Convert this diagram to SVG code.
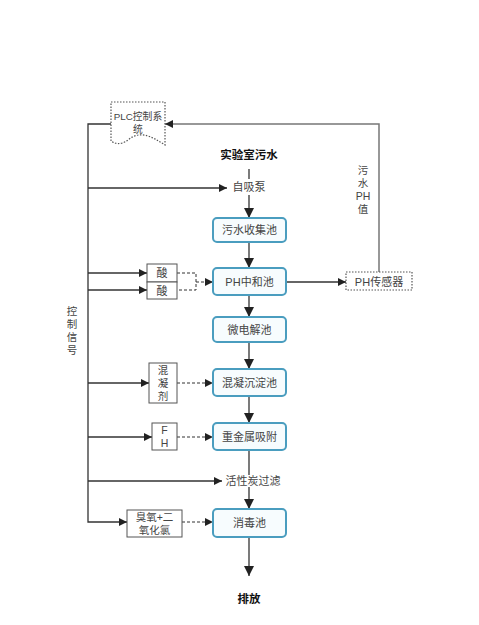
<svg xmlns="http://www.w3.org/2000/svg" width="479" height="625" viewBox="0 0 479 625">
<defs>
<marker id="ah" viewBox="0 0 10 10" refX="10" refY="5" markerWidth="8" markerHeight="8" markerUnits="userSpaceOnUse" orient="auto"><path d="M0,0 L10,5 L0,10 z" fill="#222"/></marker>
<marker id="ahb" viewBox="0 0 10 10" refX="10" refY="5" markerWidth="10" markerHeight="10" markerUnits="userSpaceOnUse" orient="auto"><path d="M0,0 L10,5 L0,10 z" fill="#222"/></marker>
</defs>
<style>
text{font-family:"Liberation Sans","Noto Sans CJK SC",sans-serif;fill:#444;font-size:11px;text-anchor:middle;dominant-baseline:central}
.proc{fill:#f7fcfe;stroke:#4a9dbf;stroke-width:2}
.aux{fill:#fff;stroke:#555;stroke-width:1}
.dot{fill:#fff;stroke:#555;stroke-width:1.2;stroke-dasharray:1.5 1.5}
.ln{fill:none;stroke:#333;stroke-width:1.3}
.dash{fill:none;stroke:#333;stroke-width:1;stroke-dasharray:3 2}
.fb{fill:none;stroke:#777;stroke-width:1.5}
.title{font-weight:bold;fill:#111;font-size:11.5px}
.sm{font-size:10.5px}
.xs{font-size:9.8px}
</style>
<rect width="479" height="625" fill="#fff"/>
<g id="connectors">
<path class="ln" d="M249,169 V179"/>
<path class="ln" d="M249,195 V218" marker-end="url(#ahb)"/>
<path class="ln" d="M249,242 V268" marker-end="url(#ahb)"/>
<path class="ln" d="M249,295 V317" marker-end="url(#ahb)"/>
<path class="ln" d="M249,342 V369" marker-end="url(#ahb)"/>
<path class="ln" d="M249,396 V423" marker-end="url(#ahb)"/>
<path class="ln" d="M249,450 V475"/>
<path class="ln" d="M249,487 V509" marker-end="url(#ahb)"/>
<path class="ln" d="M249,537 V576" marker-end="url(#ahb)"/>
<path class="ln" d="M111,124 H88 V522 H127" marker-end="url(#ah)"/>
<path class="ln" d="M88,188 H227" marker-end="url(#ah)"/>
<path class="ln" d="M88,273 H147" marker-end="url(#ah)"/>
<path class="ln" d="M88,290 H147" marker-end="url(#ah)"/>
<path class="ln" d="M88,383 H149" marker-end="url(#ah)"/>
<path class="ln" d="M88,437 H152" marker-end="url(#ah)"/>
<path class="ln" d="M88,481 H222" marker-end="url(#ah)"/>
<path class="dash" d="M177,273 H196 V290 H177"/>
<path class="dash" d="M196,282 H213" marker-end="url(#ah)"/>
<path class="dash" d="M177,383 H213" marker-end="url(#ah)"/>
<path class="dash" d="M177,437 H213" marker-end="url(#ah)"/>
<path class="dash" d="M182,522 H213" marker-end="url(#ah)"/>
<path class="ln" d="M286,282 H346" marker-end="url(#ah)"/>
<path class="fb" d="M379,272 V124 H165" marker-end="url(#ah)"/>
</g>
<g id="plc">
<path class="dot" d="M111,102 H165 V145 C151,136 140,130 128,140 C120,146 114,143 111,141 Z"/>
<text class="xs" x="138" y="116"><tspan x="138" y="116">PLC控制系</tspan><tspan x="138" y="129">统</tspan></text>
</g>
<g id="source"><text class="title" x="249" y="155">实验室污水</text></g>
<g id="pump"><text x="249" y="187">自吸泵</text></g>
<g id="n1"><rect class="proc" x="213" y="218" width="73" height="24" rx="4"/><text x="249.5" y="230">污水收集池</text></g>
<g id="n2"><rect class="proc" x="213" y="268" width="73" height="27" rx="4"/><text x="249.5" y="281.5">PH中和池</text></g>
<g id="n3"><rect class="proc" x="213" y="317" width="73" height="25" rx="4"/><text x="249.5" y="329.5">微电解池</text></g>
<g id="n4"><rect class="proc" x="213" y="369" width="73" height="27" rx="4"/><text x="249.5" y="382.5">混凝沉淀池</text></g>
<g id="n5"><rect class="proc" x="213" y="423" width="73" height="27" rx="4"/><text x="249.5" y="436.5">重金属吸附</text></g>
<g id="n6"><text x="253" y="481">活性炭过滤</text></g>
<g id="n7"><rect class="proc" x="213" y="509" width="73" height="28" rx="4"/><text x="249.5" y="523">消毒池</text></g>
<g id="out"><text class="title" x="249" y="599">排放</text></g>
<g id="acid1"><rect class="aux" x="147" y="264" width="30" height="18"/><text x="162" y="273">酸</text></g>
<g id="acid2"><rect class="aux" x="147" y="282" width="30" height="17"/><text x="162" y="290.5">酸</text></g>
<g id="coag"><rect class="aux" x="149" y="363" width="28" height="40"/><text class="sm" x="163" y="371"><tspan x="163" y="370">混</tspan><tspan x="163" y="383">凝</tspan><tspan x="163" y="396">剂</tspan></text></g>
<g id="fh"><rect class="aux" x="152" y="423" width="25" height="27"/><text class="sm" x="164.5" y="430"><tspan x="164.5" y="430">F</tspan><tspan x="164.5" y="443">H</tspan></text></g>
<g id="ozone"><rect class="aux" x="127" y="510" width="55" height="27"/><text class="sm" x="154.5" y="517"><tspan x="154.5" y="517">臭氧+二</tspan><tspan x="154.5" y="530">氧化氯</tspan></text></g>
<g id="sensor"><rect class="dot" x="346" y="272" width="66" height="18"/><text x="379" y="281.5">PH传感器</text></g>
<g id="lbl-ph"><text class="sm" x="363" y="170"><tspan x="363" y="170">污</tspan><tspan x="363" y="183">水</tspan><tspan x="363" y="196">PH</tspan><tspan x="363" y="209">值</tspan></text></g>
<g id="lbl-ctrl"><text class="sm" x="72" y="311"><tspan x="72" y="311">控</tspan><tspan x="72" y="324">制</tspan><tspan x="72" y="337">信</tspan><tspan x="72" y="350">号</tspan></text></g>
</svg>
